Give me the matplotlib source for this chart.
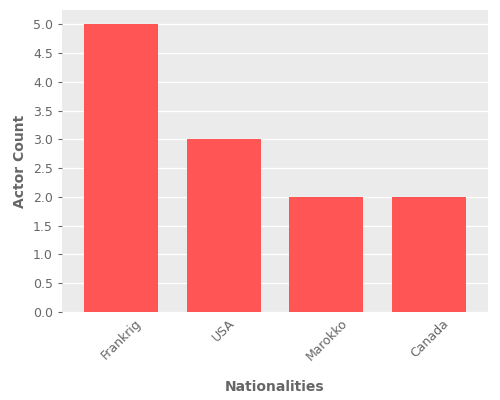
import numpy as np
import matplotlib
matplotlib.use('Agg')
import matplotlib.pyplot as plt

nationalities = ['Frankrig', 'USA', 'Marokko', 'Canada']
counts = [5, 3, 2, 2]

fig = plt.figure(figsize=(5, 4), dpi=100)
ax = fig.add_axes([0.124, 0.22, 0.852, 0.755])
ax.set_facecolor('#EBEBEB')
x = np.arange(len(nationalities))
ax.bar(x, counts, width=0.72, color='#FF5555', zorder=3)
ax.set_xlim(-0.57, 3.57)
ax.set_ylim(0, 5.25)
ax.set_yticks(np.arange(0, 5.01, 0.5))
ax.set_yticklabels(['%.1f' % v for v in np.arange(0, 5.01, 0.5)])
ax.set_xticks(x)
ax.set_xticklabels(nationalities, rotation=45)
ax.yaxis.grid(True, color='white', linewidth=1, zorder=0)
ax.xaxis.grid(False)
for s in ax.spines.values():
    s.set_visible(False)
ax.tick_params(colors='#666666', labelsize=9, length=3)
ax.tick_params(axis='x', length=0)
ax.set_xlabel('Nationalities', fontsize=10, fontweight='bold', color='#666666', labelpad=12)
ax.set_ylabel('Actor Count', fontsize=10, fontweight='bold', color='#666666')
fig.savefig('out.png')
